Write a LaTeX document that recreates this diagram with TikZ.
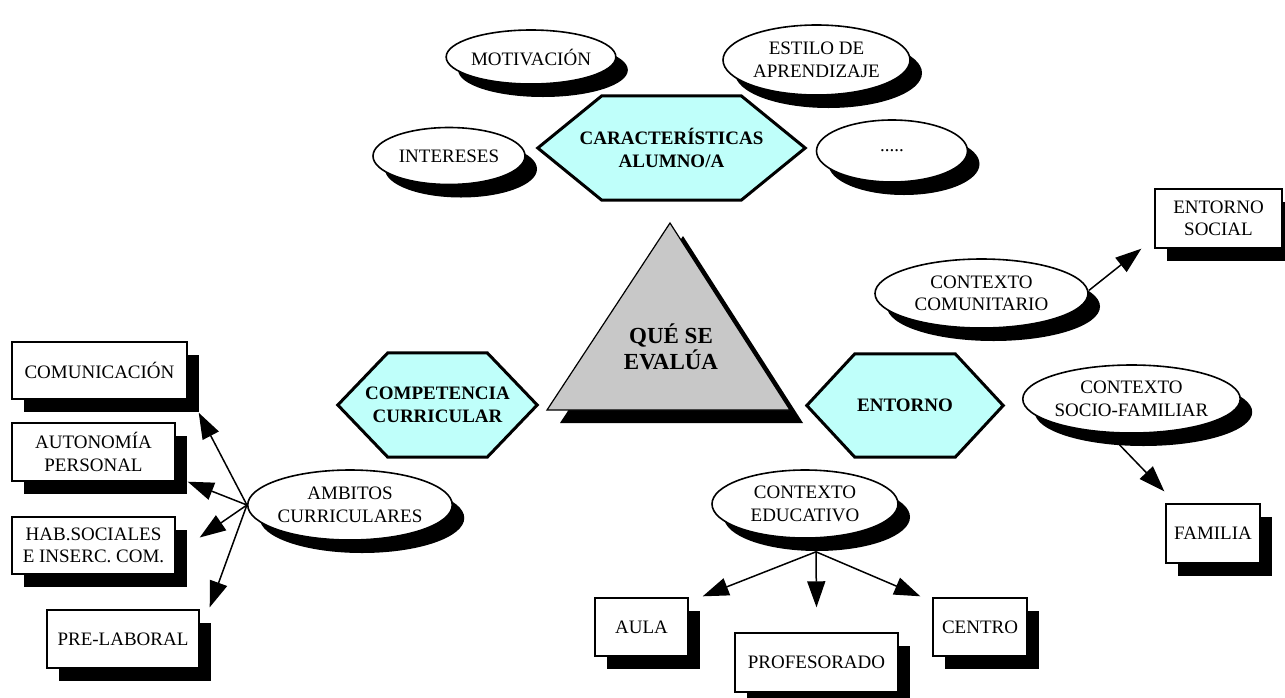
\documentclass[tikz,border=0pt]{standalone}
\usepackage{fontspec}
\setmainfont{Liberation Serif}
\usetikzlibrary{shapes.geometric,shadows,arrows.meta,backgrounds}
\definecolor{hexcyan}{RGB}{191,255,250}
\definecolor{trigray}{RGB}{200,200,200}
\begin{document}
\begin{tikzpicture}[x=1pt,y=-1pt,
  font=\fontsize{19}{22.5}\selectfont,
  shad/.style={drop shadow={shadow xshift=12pt,shadow yshift=-13pt,opacity=1,fill=black}},
  oval/.style={ellipse,draw,line width=1.6pt,fill=white,shad,inner sep=0pt,align=center},
  card/.style={rectangle,draw,line width=1.4pt,fill=white,shad,inner sep=0pt,align=center},
  hexlbl/.style={inner sep=0pt,align=center,font=\fontsize{19}{22.5}\selectfont\bfseries},
  trilbl/.style={inner sep=0pt,align=center,font=\fontsize{23}{25.5}\selectfont\bfseries},
  hexline/.style={draw,line width=3pt,fill=hexcyan,line join=miter},
  arr/.style={line width=1.5pt,-{Triangle[length=26pt,width=18pt]}}
]
\useasboundingbox (0,0) rectangle (1285,697);

% central triangle label
\node[trilbl] (tri) at (671,347) {QUÉ SE\\EVALÚA};

% hexagon labels
\node[hexlbl,minimum width=267pt,minimum height=104pt] (car) at (671.5,148) {CARACTERÍSTICAS\\ALUMNO/A};
\node[hexlbl,minimum width=199pt,minimum height=104pt] (comp) at (437.5,405) {COMPETENCIA\\CURRICULAR};
\node[hexlbl,minimum width=196pt,minimum height=103pt] (ent) at (905,405.5) {ENTORNO};

% ellipses
\node[oval,minimum width=152pt,minimum height=54pt] (mot) at (531,57) {MOTIVACIÓN};
\node[oval,minimum width=187pt,minimum height=70pt] (est) at (816.5,60) {ESTILO DE\\APRENDIZAJE};
\node[oval,minimum width=152pt,minimum height=57pt] (int) at (449,156) {INTERESES};
\node[oval,minimum width=151pt,minimum height=62pt] (dots) at (892,151) {.....};
\node[oval,minimum width=213pt,minimum height=69pt] (ccom) at (981.5,293.5) {CONTEXTO\\COMUNITARIO};
\node[oval,minimum width=209pt,minimum height=68pt] (csf) at (1131.5,399) {CONTEXTO\\SOCIO-FAMILIAR};
\node[oval,minimum width=186pt,minimum height=68pt] (cedu) at (805,504) {CONTEXTO\\EDUCATIVO};
\node[oval,minimum width=186pt,minimum height=70pt] (amb) at (350,505) {AMBITOS\\CURRICULARES};

% boxes
\node[card,minimum width=127pt,minimum height=59pt] (esoc) at (1218.5,218.5) {ENTORNO\\SOCIAL};
\node[card,minimum width=94pt,minimum height=59pt] (fam) at (1213,533.5) {FAMILIA};
\node[card,minimum width=93pt,minimum height=58pt] (aula) at (641.5,627) {AULA};
\node[card,minimum width=163pt,minimum height=59pt] (prof) at (816.5,662.5) {PROFESORADO};
\node[card,minimum width=94pt,minimum height=58pt] (cent) at (980,627) {CENTRO};
\node[card,minimum width=175pt,minimum height=57pt] (com) at (99.5,370.5) {COMUNICACIÓN};
\node[card,minimum width=163pt,minimum height=58pt] (aut) at (93.5,452) {AUTONOMÍA\\PERSONAL};
\node[card,minimum width=163pt,minimum height=57pt] (hab) at (93.5,545.5) {HAB.SOCIALES\\E INSERC. COM.};
\node[card,minimum width=152pt,minimum height=58pt] (pre) at (123,639) {PRE-LABORAL};

\begin{pgfonlayer}{background}
  % triangle with shadow
  \fill[black] ([shift={(12pt,111pt)}]tri.center) -- ([shift={(-111pt,-76pt)}]tri.center)
     -- ([shift={(132pt,-76pt)}]tri.center) -- cycle;
  \draw[fill=trigray,line width=1.2pt,line join=miter] ([shift={(-1pt,124pt)}]tri.center)
     -- ([shift={(-124pt,-63pt)}]tri.center) -- ([shift={(119pt,-63pt)}]tri.center) -- cycle;
  % hexagons
  \path[hexline] (car.west) -- ([xshift=64pt]car.north west) -- ([xshift=-64pt]car.north east)
     -- (car.east) -- ([xshift=-64pt]car.south east) -- ([xshift=64pt]car.south west) -- cycle;
  \path[hexline] (comp.west) -- ([xshift=50pt]comp.north west) -- ([xshift=-50pt]comp.north east)
     -- (comp.east) -- ([xshift=-50pt]comp.south east) -- ([xshift=50pt]comp.south west) -- cycle;
  \path[hexline] (ent.west) -- ([xshift=48pt]ent.north west) -- ([xshift=-48pt]ent.north east)
     -- (ent.east) -- ([xshift=-48pt]ent.south east) -- ([xshift=48pt]ent.south west) -- cycle;
\end{pgfonlayer}

% connectors
\draw[arr] ([yshift=3pt]ccom.east) -- ([xshift=-13pt]esoc.south west);
\draw[arr] ([shift={(-12pt,-11pt)}]csf.south) -- ([shift={(-1pt,12pt)}]fam.north west);
\draw[arr] ([shift={(11pt,-13pt)}]cedu.south) -- ([shift={(14pt,1pt)}]aula.north east);
\draw[arr] ([shift={(11pt,-13pt)}]cedu.south) -- ([yshift=25pt]prof.north);
\draw[arr] ([shift={(11pt,-13pt)}]cedu.south) -- ([shift={(-12pt,1pt)}]cent.north west);
\draw[arr] (amb.west) -- ([shift={(11pt,-13pt)}]com.south east);
\draw[arr] (amb.west) -- ([xshift=12pt]aut.south east);
\draw[arr] (amb.west) -- ([shift={(24pt,8pt)}]hab.east);
\draw[arr] (amb.west) -- ([shift={(10pt,2pt)}]pre.north east);
\end{tikzpicture}
\end{document}
